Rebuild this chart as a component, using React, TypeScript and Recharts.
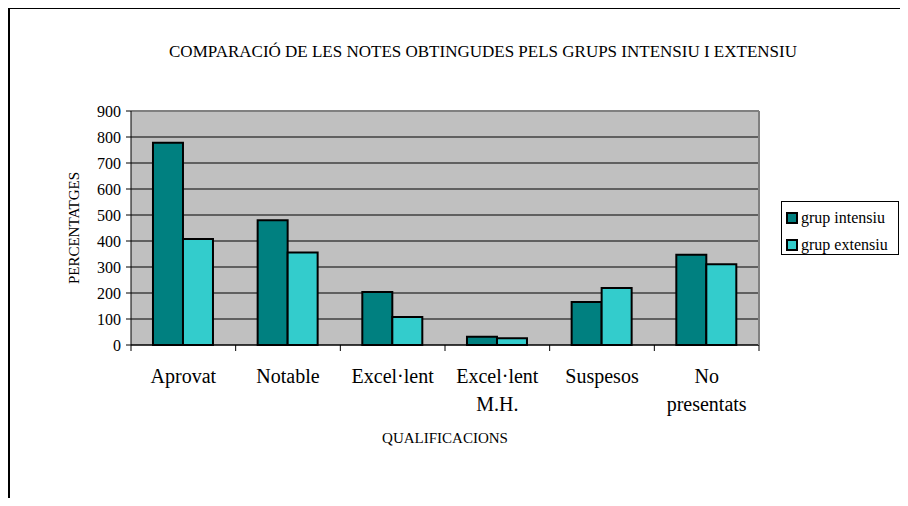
import React from "react";
import {
  BarChart,
  Bar,
  XAxis,
  YAxis,
  CartesianGrid,
  Legend,
  ReferenceLine,
  Label,
} from "recharts";

// Qualificacions (eix X)
const categories = [
  "Aprovat",
  "Notable",
  "Excel·lent",
  "Excel·lent\nM.H.",
  "Suspesos",
  "No\npresentats",
];

// Valors per grup
const intensiu = [778, 480, 204, 32, 165, 347];
const extensiu = [408, 356, 108, 26, 219, 311];

const seriesNames = ["grup intensiu", "grup extensiu"];
const seriesColors = ["#008080", "#33CCCC"];

const yTicks = [0, 100, 200, 300, 400, 500, 600, 700, 800, 900];

const data = categories.map((name, i) => ({
  name,
  intensiu: intensiu[i],
  extensiu: extensiu[i],
}));

const FONT = "'Liberation Serif', 'Times New Roman', serif";

// etiqueta de categoria + marques als límits de cada banda
function CategoryTick({ x, y, payload, index, visibleTicksCount, width }: any) {
  const lines = String(payload.value).split("\n");
  const half = payload.offset ?? width / visibleTicksCount / 2;
  return (
    <g>
      <line x1={x - half} x2={x - half} y1={y} y2={y + 6} stroke="#000" />
      {index === visibleTicksCount - 1 && (
        <line x1={x + half} x2={x + half} y1={y} y2={y + 6} stroke="#000" />
      )}
      <text x={x} y={y} textAnchor="middle" fontSize={20} fill="#000" fontFamily={FONT}>
        {lines.map((l, i) => (
          <tspan key={i} x={x} dy={i === 0 ? 38 : 28}>
            {l}
          </tspan>
        ))}
      </text>
    </g>
  );
}

function LegendBox({ payload }: any) {
  const items = [...(payload ?? [])].sort(
    (a: any, b: any) => seriesNames.indexOf(a.value) - seriesNames.indexOf(b.value)
  );
  return (
    <div
      style={{
        border: "1px solid #000",
        background: "#fff",
        height: 54,
        paddingTop: 2,
        boxSizing: "border-box",
        fontFamily: FONT,
        fontSize: 16,
        color: "#000",
      }}
    >
      {items.map((p: any, i: number) => (
        <div key={i} style={{ display: "flex", alignItems: "center", height: 27, paddingLeft: 4 }}>
          <span
            style={{
              display: "inline-block",
              width: 8,
              height: 8,
              border: "2px solid #000",
              background: p.color,
              marginRight: 3,
            }}
          />
          <span>{p.value}</span>
        </div>
      ))}
    </div>
  );
}

export default function App() {
  return (
    <div style={{ position: "relative", width: 892, height: 490, fontFamily: FONT, overflow: "hidden" }}>
      {/* marc exterior */}
      <div
        style={{
          position: "absolute",
          left: 0,
          top: -1,
          width: 892,
          height: 491,
          borderTop: "2px solid #000",
          borderLeft: "2px solid #000",
          boxSizing: "border-box",
          pointerEvents: "none",
        }}
      />
      <div
        style={{
          position: "absolute",
          left: 475,
          top: 35,
          transform: "translateX(-50%)",
          whiteSpace: "nowrap",
          fontSize: 17,
          lineHeight: "18px",
          color: "#000",
        }}
      >
        COMPARACIÓ DE LES NOTES OBTINGUDES PELS GRUPS INTENSIU I EXTENSIU
      </div>
      <BarChart
        width={892}
        height={490}
        data={data}
        margin={{ top: 103, right: 140, bottom: 45, left: 63 }}
        barCategoryGap="21%"
        barGap={0}
      >
        <CartesianGrid vertical={false} stroke="#000" fill="#C0C0C0" fillOpacity={1} />
        <XAxis
          dataKey="name"
          height={108}
          interval={0}
          axisLine={{ stroke: "#000" }}
          tickLine={false}
          tickSize={0}
          tickMargin={0}
          tick={<CategoryTick />}
        >
          <Label
            content={({ viewBox }: any) => (
              <text
                x={viewBox.x + viewBox.width / 2}
                y={viewBox.y + 98}
                textAnchor="middle"
                fontSize={15}
                fill="#000"
                fontFamily={FONT}
              >
                QUALIFICACIONS
              </text>
            )}
          />
        </XAxis>
        <YAxis
          domain={[0, 900]}
          ticks={yTicks}
          interval={0}
          width={60}
          tickSize={5}
          tickMargin={5}
          tick={{ fontSize: 16, fill: "#000", fontFamily: FONT }}
          axisLine={{ stroke: "#000" }}
          tickLine={{ stroke: "#000" }}
        >
          <Label
            content={({ viewBox }: any) => {
              const cx = viewBox.x + 3;
              const cy = viewBox.y + viewBox.height / 2;
              return (
                <text
                  x={cx}
                  y={cy}
                  textAnchor="middle"
                  dominantBaseline="central"
                  fontSize={15}
                  fill="#000"
                  fontFamily={FONT}
                  transform={`rotate(-90 ${cx} ${cy})`}
                >
                  PERCENTATGES
                </text>
              );
            }}
          />
        </YAxis>
        <YAxis
          yAxisId="right"
          orientation="right"
          domain={[0, 900]}
          width={1}
          tick={false}
          tickLine={false}
          axisLine={{ stroke: "#808080", strokeWidth: 2 }}
        />
        <Bar
          dataKey="intensiu"
          name={seriesNames[0]}
          fill={seriesColors[0]}
          stroke="#000"
          strokeWidth={2}
          isAnimationActive={false}
        />
        <Bar
          dataKey="extensiu"
          name={seriesNames[1]}
          fill={seriesColors[1]}
          stroke="#000"
          strokeWidth={2}
          isAnimationActive={false}
        />
        <ReferenceLine y={900} stroke="#808080" strokeWidth={2} />
        <Legend
          layout="vertical"
          align="center"
          verticalAlign="middle"
          wrapperStyle={{ position: "absolute", left: 773, top: 193, width: 118 }}
          content={<LegendBox />}
        />
      </BarChart>
    </div>
  );
}
